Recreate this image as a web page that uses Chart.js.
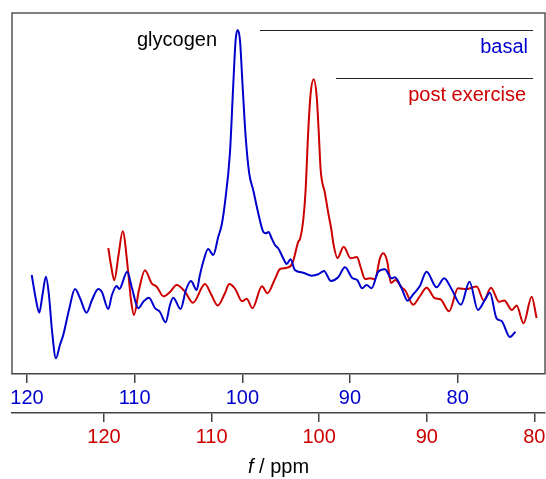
<!DOCTYPE html>
<html>
<head>
<meta charset="utf-8">
<script src="https://cdn.jsdelivr.net/npm/chart.js@4"></script>
<style>
  body { margin: 0; background: #fff; }
  #wrap { width: 546px; height: 479px; }
</style>
</head>
<body>
<div id="wrap"><canvas id="spectrum" width="546" height="479"></canvas></div>
<script>
// basal spectrum, read against the upper (blue) ppm axis
const basalPpm = [119.56, 119.16, 118.86, 118.56, 118.24, 117.96, 117.68, 117.31, 116.94, 116.63,
  116.10, 115.54, 115.08, 114.46, 113.96, 113.38, 113.04, 112.45, 112.11, 111.67,
  111.43, 110.69, 110.25, 109.67, 109.14, 108.67, 108.12, 107.65, 107.12, 106.72,
  106.42, 105.73, 105.24, 104.77, 104.24, 103.94, 103.63, 103.17, 102.70, 102.24,
  101.92, 101.62, 101.15, 100.85, 100.62, 100.44, 100.22, 99.97, 99.69, 99.36,
  98.99, 98.52, 98.06, 97.81, 97.56, 97.28, 96.97, 96.67, 96.04, 95.89,
  95.52, 95.12, 94.34, 93.57, 92.95, 92.42, 91.77, 91.10, 90.47, 89.76,
  89.33, 88.87, 88.46, 87.99, 87.38, 86.76, 86.14, 85.83, 85.21, 84.65,
  84.13, 83.51, 82.89, 81.96, 81.25, 80.57, 79.70, 78.90, 78.12, 77.47,
  77.01, 76.39, 75.92, 75.15, 74.64];
const basalSignal = [99, 74, 61.3, 79, 97.3, 79, 44, 15.7, 29, 39,
  64, 85, 76, 61.3, 74, 85, 82, 65, 79, 88,
  85, 102.3, 86, 65.7, 73, 76.3, 66, 62, 51.7, 69,
  76.3, 65, 84, 93, 84, 99, 112.3, 125, 119, 137,
  149, 170.7, 221, 287.3, 334, 344, 334, 287.3, 237.3, 200.7,
  184, 160.7, 142.3, 140.7, 142, 135.7, 129, 125.7, 112.3, 110,
  114.7, 104, 101.3, 98.3, 99.7, 103, 93, 96.7, 106.7, 95.7,
  94, 85.7, 89, 85.7, 102.3, 104.7, 95.7, 96.7, 85.7, 73.3,
  79.7, 88, 102.3, 86.7, 95.7, 85, 69.3, 92.3, 64, 74,
  81.3, 55.7, 53, 37, 42.3];

// post exercise spectrum, read against the lower (red) ppm axis
const postPpm = [119.60, 119.35, 119.04, 118.65, 118.26, 117.77, 117.49, 117.21, 116.75, 116.19,
  115.57, 115.10, 114.47, 113.87, 113.24, 112.47, 111.73, 110.61, 110.06, 109.43,
  108.76, 108.36, 107.80, 107.17, 106.74, 106.20, 105.32, 104.81, 104.11, 103.64,
  103.09, 102.48, 101.94, 101.78, 101.48, 101.27, 101.01, 100.79, 100.51, 100.23,
  100.05, 99.86, 99.46, 99.15, 98.86, 98.69, 98.30, 97.72, 97.07, 96.49,
  96.12, 95.74, 95.28, 94.81, 94.35, 94.04, 93.67, 93.33, 92.91, 92.33,
  92.03, 91.25, 90.63, 90.01, 89.24, 88.73, 87.92, 87.10, 86.29, 85.36,
  84.70, 84.03, 83.29, 82.80, 82.08, 81.65, 81.00, 80.25, 79.79];
const postSignal = [126, 109, 93.7, 119, 142.7, 104, 74, 59, 84, 103.7,
  90.7, 87.3, 77.7, 82, 89, 82.3, 71.3, 90, 80, 68.5,
  80.7, 90, 85, 72.7, 75.3, 65.7, 87.7, 80.7, 95, 105,
  106, 111, 132.3, 135, 154, 182, 244, 280.7, 294.7, 277.3,
  244, 204, 180.7, 160.7, 144, 131, 116, 127.3, 115.7, 117,
  106, 95, 95.7, 95, 115.7, 120.7, 112.3, 91, 94, 86.5,
  84, 69.3, 78, 86.3, 75.7, 74.8, 62.7, 85.7, 85, 87.6,
  73.5, 86.3, 72.3, 73.5, 64, 68.5, 50.7, 77.3, 56];

const basalTicks = [120, 110, 100, 90, 80];
const postTicks = [120, 110, 100, 90, 80];
const basalRange = [71.89, 121.39];
const postRange = [79.01, 128.55];
const signalRange = [0, 361];

const BLUE = "#0000cc";
const RED = "#cc0000";
const AXIS = "#444444";
const FONT = "'Liberation Sans', Arial, sans-serif";

const toPoints = (xs, ys) => xs.map((x, i) => ({ x: x, y: ys[i] }));

// frame, legend-style labels and the axis title
const decorations = {
  id: "decorations",
  afterDraw(chart) {
    const { ctx, chartArea: a } = chart;
    ctx.save();
    ctx.strokeStyle = "#555";
    ctx.lineWidth = 1.5;
    ctx.beginPath();
    ctx.moveTo(a.left, a.bottom);
    ctx.lineTo(a.left, a.top);
    ctx.lineTo(a.right, a.top);
    ctx.lineTo(a.right, a.bottom);
    ctx.stroke();

    ctx.strokeStyle = "#222";
    ctx.lineWidth = 1;
    ctx.beginPath();
    ctx.moveTo(a.left + 248, a.top + 17.5);
    ctx.lineTo(a.left + 521, a.top + 17.5);
    ctx.moveTo(a.left + 324, a.top + 65.5);
    ctx.lineTo(a.left + 521, a.top + 65.5);
    ctx.stroke();

    ctx.font = "20px " + FONT;
    ctx.textBaseline = "alphabetic";
    ctx.textAlign = "left";
    ctx.fillStyle = "#000";
    ctx.fillText("glycogen", a.left + 125, a.top + 33);
    ctx.textAlign = "right";
    ctx.fillStyle = BLUE;
    ctx.fillText("basal", a.left + 516, a.top + 40);
    ctx.fillStyle = RED;
    ctx.fillText("post exercise", a.left + 514, a.top + 88);

    // axis title: italic f / ppm
    ctx.fillStyle = "#000";
    ctx.textAlign = "left";
    ctx.textBaseline = "middle";
    const cx = (a.left + a.right) / 2;
    ctx.font = "italic 20px " + FONT;
    const fW = ctx.measureText("f").width;
    ctx.font = "20px " + FONT;
    const restW = ctx.measureText(" / ppm").width;
    const x0 = cx - (fW + restW) / 2;
    ctx.font = "italic 20px " + FONT;
    ctx.fillText("f", x0, 467);
    ctx.font = "20px " + FONT;
    ctx.fillText(" / ppm", x0 + fW, 467);
    ctx.restore();
  }
};

const axisStyle = (color, range, ticks) => ({
  type: "linear",
  position: "bottom",
  reverse: true,
  min: range[0],
  max: range[1],
  afterBuildTicks: (scale) => {
    scale.ticks = ticks.map((v) => ({ value: v }));
  },
  afterFit: (scale) => {
    scale.paddingLeft = 0;
    scale.paddingRight = 0;
  },
  grid: {
    display: true,
    drawOnChartArea: false,
    drawTicks: true,
    tickLength: 9,
    color: AXIS,
    lineWidth: 1.5
  },
  border: { display: true, color: AXIS, width: 1.5 },
  ticks: {
    color: color,
    padding: 3,
    maxRotation: 0,
    autoSkip: false,
    font: { family: FONT, size: 20 }
  }
});

new Chart(document.getElementById("spectrum"), {
  type: "line",
  data: {
    datasets: [
      {
        label: "basal",
        data: toPoints(basalPpm, basalSignal),
        xAxisID: "x",
        borderColor: BLUE,
        borderWidth: 2,
        pointRadius: 0,
        cubicInterpolationMode: "monotone",
        fill: false
      },
      {
        label: "post exercise",
        data: toPoints(postPpm, postSignal),
        xAxisID: "x2",
        borderColor: RED,
        borderWidth: 2,
        pointRadius: 0,
        cubicInterpolationMode: "monotone",
        fill: false
      }
    ]
  },
  options: {
    responsive: false,
    animation: false,
    layout: { padding: { left: 12, top: 13, right: 1, bottom: 27 } },
    plugins: {
      legend: { display: false },
      tooltip: { enabled: false }
    },
    scales: {
      x: axisStyle(BLUE, basalRange, basalTicks),
      x2: axisStyle(RED, postRange, postTicks),
      y: {
        display: false,
        min: signalRange[0],
        max: signalRange[1]
      }
    }
  },
  plugins: [decorations]
});
</script>
</body>
</html>
